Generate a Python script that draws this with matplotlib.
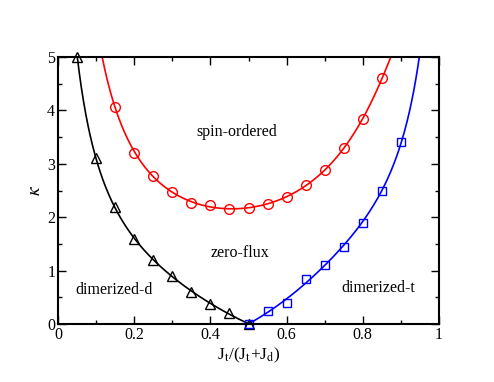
import numpy as np
import matplotlib.pyplot as plt
from matplotlib.ticker import MultipleLocator

plt.rcParams['font.family'] = ['Liberation Serif', 'DejaVu Serif']
plt.rcParams['mathtext.fontset'] = 'stix'

# phase boundary data
tri_x = [0.05, 0.10, 0.15, 0.20, 0.25, 0.30, 0.35, 0.40, 0.45, 0.50]
tri_k = [5.0, 3.1, 2.2, 1.6, 1.2, 0.9, 0.6, 0.38, 0.2, 0.0]

circ_x = [0.15, 0.20, 0.25, 0.30, 0.35, 0.40, 0.45, 0.50, 0.55, 0.60, 0.65, 0.70, 0.75, 0.80, 0.85]
circ_k = [4.07, 3.2, 2.78, 2.47, 2.27, 2.22, 2.15, 2.17, 2.25, 2.38, 2.6, 2.88, 3.3, 3.83, 4.6]

sq_x = [0.50, 0.55, 0.60, 0.65, 0.70, 0.75, 0.80, 0.85, 0.90]
sq_k = [0.0, 0.24, 0.4, 0.85, 1.1, 1.45, 1.9, 2.5, 3.4]

fig = plt.figure(figsize=(4.94, 3.82), dpi=100)
ax = fig.add_axes([58/494, 1 - 324/382, 381/494, 267/382])

# smooth fit curves (fit 1/(k+c) with a polynomial)
def fit_curve(x, k, c, deg, x0, x1):
    p = np.polyfit(x, 1.0 / (np.array(k) + c), deg)
    xs = np.linspace(x0, x1, 400)
    return xs, 1.0 / np.polyval(p, xs) - c

xs, ks = fit_curve(tri_x, tri_k, 1.0, 3, 0.05, 0.5)
ax.plot(xs, ks, color='black', lw=1.2)
xs, ks = fit_curve(circ_x, circ_k, 0.0, 4, 0.09, 0.88)
ax.plot(xs, ks, color='red', lw=1.2)
xs, ks = fit_curve(sq_x, sq_k, 1.0, 3, 0.5, 0.96)
ax.plot(xs, ks, color='blue', lw=1.2)

ax.plot(tri_x, tri_k, '^', mfc='none', mec='black', ms=7, mew=1.0, clip_on=False)
ax.plot(circ_x, circ_k, 'o', mfc='none', mec='red', ms=7, mew=1.0, clip_on=False)
ax.plot(sq_x, sq_k, 's', mfc='none', mec='blue', ms=6, mew=1.0, clip_on=False)

ax.text(0.47, 3.6, 'spin-ordered', ha='center', va='center', fontsize=11.5)
ax.text(0.478, 1.33, 'zero-flux', ha='center', va='center', fontsize=11.5)
ax.text(0.147, 0.64, 'dimerized-d', ha='center', va='center', fontsize=11.5)
ax.text(0.84, 0.67, 'dimerized-t', ha='center', va='center', fontsize=11.5)

ax.set_xlim(0, 1)
ax.set_ylim(0, 5)
ax.xaxis.set_major_locator(MultipleLocator(0.2))
ax.xaxis.set_minor_locator(MultipleLocator(0.1))
ax.yaxis.set_major_locator(MultipleLocator(1))
ax.yaxis.set_minor_locator(MultipleLocator(0.5))
ax.xaxis.set_major_formatter(plt.FuncFormatter(lambda v, p: '%g' % v))
ax.tick_params(which='both', direction='in', top=True, right=True, labelsize=11.5, pad=2)
ax.tick_params(which='major', length=6, width=1.0)
ax.tick_params(which='minor', length=3, width=1.0)
for s in ax.spines.values():
    s.set_linewidth(1.5)

ax.set_xlabel(r'J$_\mathrm{t}$/(J$_\mathrm{t}$+J$_\mathrm{d}$)', fontsize=12.5, labelpad=2)
ax.set_ylabel(r'$\kappa$', fontsize=14, labelpad=2)

fig.savefig('out.png', dpi=100)
